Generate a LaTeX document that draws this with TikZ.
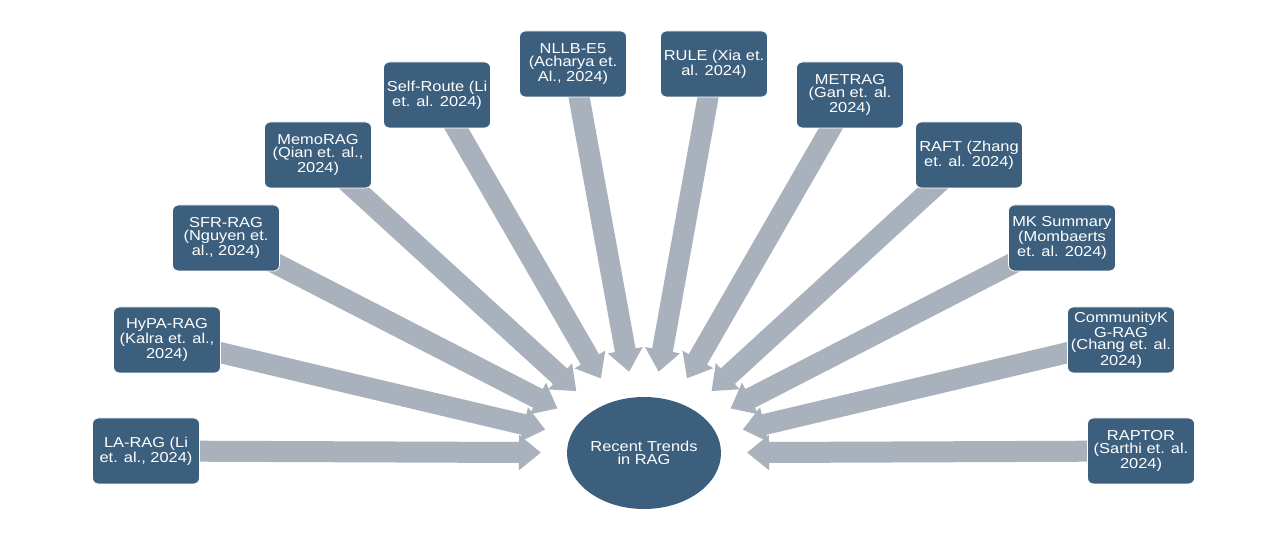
\documentclass[tikz,border=0pt]{standalone}
\usepackage{fontspec}
\setmainfont{Liberation Sans}[FakeStretch=1.14]
\usetikzlibrary{arrows.meta,shapes.geometric,backgrounds}
\definecolor{boxblue}{HTML}{3C5F7E}
\definecolor{arrowgray}{HTML}{A9B2BC}
\tikzset{
  refbox/.style={rectangle, rounded corners=3pt, fill=boxblue, draw=white, line width=0.4pt,
    minimum width=53.5pt, minimum height=33pt, inner sep=1pt, align=center, text=white,
    font=\fontsize{7.2pt}{6.4pt}\selectfont},
  hub/.style={ellipse, fill=boxblue, minimum width=77pt, minimum height=56pt, inner sep=0pt,
    outer sep=13pt, align=center, text=white, font=\fontsize{7.2pt}{6.4pt}\selectfont},
  blockarrow/.style={draw=arrowgray, line width=10.5pt, -{Triangle[width=17pt,length=11pt]}}
}
\begin{document}
\begin{tikzpicture}[x=0.5pt,y=-0.5pt]
\useasboundingbox (0,0) rectangle (1280,544);
\node[hub] (hub) at (644,453) {Recent Trends\\in RAG};
\node[refbox] (la) at (146,451) {LA-RAG (Li\\et. al., 2024)};
\node[refbox] (hypa) at (167,340) {HyPA-RAG\\(Kalra et. al.,\\2024)};
\node[refbox] (sfr) at (226,238) {SFR-RAG\\(Nguyen et.\\al., 2024)};
\node[refbox] (memo) at (318,155) {MemoRAG\\(Qian et. al.,\\2024)};
\node[refbox] (self) at (437,95) {Self-Route (Li\\et. al. 2024)};
\node[refbox] (nllb) at (573,64) {NLLB-E5\\(Acharya et.\\Al., 2024)};
\node[refbox] (rule) at (714,64) {RULE (Xia et.\\al. 2024)};
\node[refbox] (metrag) at (850,95) {METRAG\\(Gan et. al.\\2024)};
\node[refbox] (raft) at (969,155) {RAFT (Zhang\\et. al. 2024)};
\node[refbox] (mk) at (1062,238) {MK Summary\\(Mombaerts\\et. al. 2024)};
\node[refbox] (ckg) at (1121,340) {CommunityK\\G-RAG\\(Chang et. al.\\2024)};
\node[refbox] (raptor) at (1141,451) {RAPTOR\\(Sarthi et. al.\\2024)};
\begin{scope}[on background layer]
\foreach \n in {la,hypa,sfr,memo,self,nllb,rule,metrag,raft,mk,ckg,raptor}
  \draw[blockarrow] (\n.center) -- (hub);
\end{scope}
\end{tikzpicture}
\end{document}
